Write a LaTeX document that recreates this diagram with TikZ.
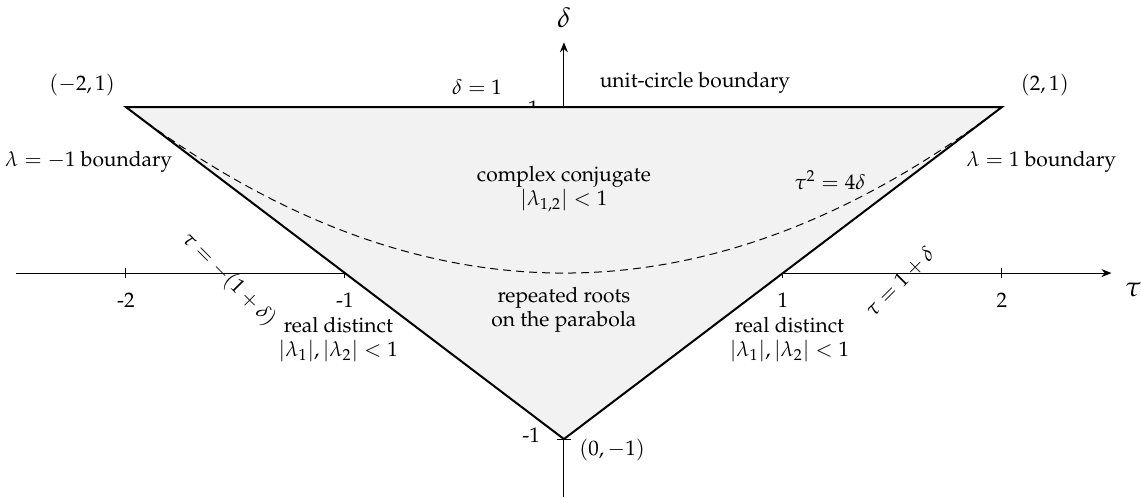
\documentclass[tikz,border=0pt]{standalone}
\usepackage[T1]{fontenc}
\usepackage{mathpazo}
\usetikzlibrary{arrows.meta}
\begin{document}
\begin{tikzpicture}[x=109.5pt,y=83pt,
  axis/.style={line width=0.5pt,-{Stealth[length=5pt,width=4pt]}},
  tick/.style={line width=0.5pt},
  edge/.style={line width=1pt},
  region/.style={fill=gray!10},
  lbl/.style={font=\fontsize{10.5}{12}\selectfont},
  ticklbl/.style={font=\fontsize{10.5}{12}\selectfont}]
\useasboundingbox (-2.575,-1.349) rectangle (2.635,1.645);
% axes
\coordinate (xs) at (-2.5,0); \coordinate (xe) at (2.5,0);
\coordinate (ys) at (0,-1.35); \coordinate (ye) at (0,1.39);
\draw[axis] (xs) -- (xe);
\draw[axis] (ys) -- (ye);
\node[lbl,font=\fontsize{14}{16}\selectfont] (taulbl) at (2.6,-0.1) {$\tau$};
\node[lbl,font=\fontsize{14}{16}\selectfont] (dellbl) at (0,1.54) {$\delta$};
% ticks
\foreach \t/\s in {-2/-2,-1/-1,1/1,2/2}{
  \draw[tick] (\t,0.03) -- (\t,-0.03);
  \node[ticklbl] (tx\s) at (\t,-0.163) {\s};
}
\draw[tick] (-0.03,1) -- (0.03,1);
\draw[tick] (-0.03,-1) -- (0.03,-1);
\node[ticklbl] (ty1) at (-0.14,0.99) {1};
\node[ticklbl] (tym1) at (-0.15,-0.98) {-1};
% region
\coordinate (A) at (-2,1); \coordinate (B) at (2,1); \coordinate (C) at (0,-1);
\fill[region] (A) -- (B) -- (C) -- cycle;
\draw[edge] (A) -- (B) -- (C) -- cycle;
\draw[dashed,line width=0.5pt,dash pattern=on 4pt off 2.5pt] plot[domain=-2:2,samples=80,smooth] (\x,{\x*\x/4});
% labels
\node[lbl] (pA) at (-2.2,1.13) {$(-2,1)$};
\node[lbl] (pB) at (2.196,1.13) {$(2,1)$};
\node[lbl] (pC) at (0.22,-1.066) {$(0,-1)$};
\node[lbl] (d1) at (-0.397,1.12) {$\delta=1$};
\node[lbl] (ucb) at (0.598,1.145) {unit-circle boundary};
\node[lbl] (lm1) at (-2.17,0.67) {$\lambda=-1$ boundary};
\node[lbl] (lp1) at (2.18,0.67) {$\lambda=1$ boundary};
\node[lbl,align=center] (cc) at (0,0.506) {complex conjugate\\$|\lambda_{1,2}|<1$};
\node[lbl] (par) at (1.215,0.56) {$\tau^2=4\delta$};
\node[lbl,align=center] (rr) at (0,-0.22) {repeated roots\\on the parabola};
\node[lbl,align=center] (rdl) at (-1.03,-0.40) {real distinct\\$|\lambda_1|,|\lambda_2|<1$};
\node[lbl,align=center] (rdr) at (1.03,-0.40) {real distinct\\$|\lambda_1|,|\lambda_2|<1$};
\node[lbl,rotate=-45] (ll) at (-1.53,-0.04) {$\tau=-(1+\delta)$};
\node[lbl,rotate=45] (rl) at (1.534,-0.054) {$\tau=1+\delta$};
\end{tikzpicture}
\end{document}
